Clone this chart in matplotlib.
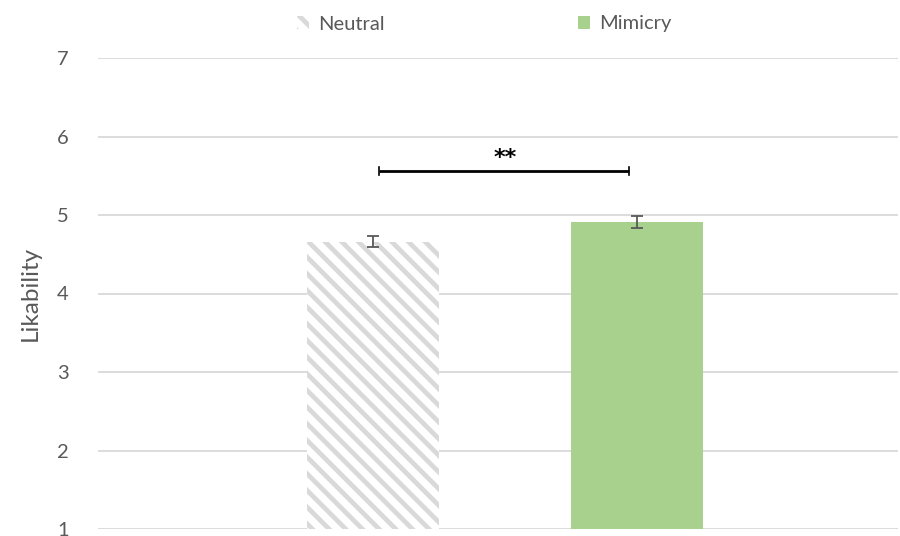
import matplotlib
matplotlib.use("Agg")
import matplotlib.pyplot as plt
from matplotlib.patches import Patch

conditions = ["Neutral", "Mimicry"]
means = [4.66, 4.91]
errors = [0.07, 0.075]
sig_level = 5.56
sig_label = "**"
y_ticks = [1, 2, 3, 4, 5, 6, 7]

TEXT = "#595959"
GRID = "#d9d9d9"
GREEN = "#a9d18e"
STRIPES = "\\\\"

plt.rcParams["font.family"] = ["Lato", "DejaVu Sans"]
plt.rcParams["hatch.linewidth"] = 3.4

fig = plt.figure(figsize=(9, 5.36), dpi=100)
ax = fig.add_axes([98 / 900, 1 - 529 / 536, 800 / 900, (529 - 58) / 536])

x = [0, 1]
bars = ax.bar(x, means, bottom=0, width=0.5, zorder=3, linewidth=0)
# Neutral: light gray diagonal stripes; Mimicry: solid green
bars[0].set_facecolor("white")
bars[0].set_hatch(STRIPES)
bars[0].set_edgecolor(GRID)
bars[1].set_facecolor(GREEN)
bars[1].set_edgecolor(GREEN)

ax.errorbar(x, means, yerr=errors, fmt="none", ecolor=TEXT, elinewidth=1.3,
            capsize=4, capthick=1.3, zorder=4)

# significance bracket
x0, x1 = 0.023, 0.97
ax.plot([x0, x1], [sig_level, sig_level], color="black", lw=2, zorder=5,
        solid_capstyle="butt")
for xe in (x0, x1):
    ax.plot([xe, xe], [sig_level - 0.055, sig_level + 0.055], color="black",
            lw=1.2, zorder=5)
ax.text(0.5, sig_level + 0.17, sig_label, ha="center", va="center",
        fontsize=16, fontweight="bold", color="black", family="DejaVu Sans")

ax.set_xlim(-1.042, 1.989)
ax.set_ylim(1, 7)
ax.set_yticks(y_ticks)
ax.set_xticks([])
ax.yaxis.grid(True, color=GRID, lw=1.3, zorder=0)
ax.set_axisbelow(True)
for s in ax.spines.values():
    s.set_visible(False)
ax.tick_params(axis="y", length=0, pad=21, labelsize=14.5, labelcolor=TEXT)
ax.set_ylabel("Likability", fontsize=17.5, color=TEXT, labelpad=12)

handles = [Patch(facecolor="white", hatch=STRIPES, edgecolor=GRID, linewidth=0,
                 label="Neutral"),
           Patch(facecolor=GREEN, edgecolor=GREEN, linewidth=0, label="Mimicry")]
leg = fig.legend(handles=handles, loc="center", bbox_to_anchor=(484 / 900, 1 - 24 / 536),
                 ncol=2, frameon=False, fontsize=14.5, handlelength=0.6,
                 handleheight=0.6, handletextpad=0.45, columnspacing=9.6)
for t in leg.get_texts():
    t.set_color(TEXT)

fig.savefig("out.png", dpi=100, facecolor="white")
